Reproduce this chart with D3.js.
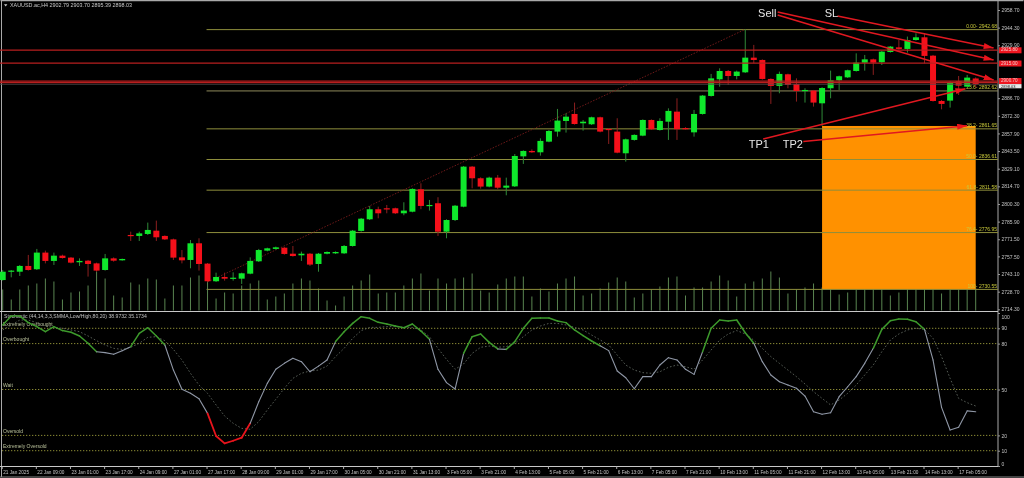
<!DOCTYPE html>
<html><head><meta charset="utf-8">
<script src="https://cdnjs.cloudflare.com/ajax/libs/d3/7.9.0/d3.min.js"></script>
<style>html,body{margin:0;padding:0;background:#000;overflow:hidden}svg{display:block;filter:blur(.3px)}text{font-family:"Liberation Sans",Arial,sans-serif}</style>
</head><body><svg id="c" width="1024" height="478"></svg>
<script>
const titleText="XAUUSD.ac,H4  2902.79 2903.70 2895.39 2898.03";
const stochTitle="Stochastic (44,14,3,3,SMMA,Low/High,80,20) 38.9732 35.1734";
const open=[2738.2,2745.0,2745.0,2749.7,2747.0,2760.6,2753.8,2758.1,2756.5,2752.7,2754.0,2751.8,2746.4,2755.9,2754.3,2775.0,2774.2,2775.8,2778.5,2774.2,2771.4,2756.7,2754.6,2768.2,2751.6,2737.2,2740.7,2739.3,2739.3,2743.4,2753.5,2762.2,2763.6,2764.6,2759.7,2758.4,2759.7,2751.3,2759.7,2760.0,
2760.0,2766.0,2778.3,2787.8,2796.0,2796.8,2796.8,2792.7,2794.0,2812.3,2798.7,2800.9,2777.7,2787.2,2798.1,2830.8,2821.3,2814.5,2821.8,2813.6,2814.7,2839.2,2843.6,2842.5,2851.2,2859.4,2868.1,2873.8,2866.2,2865.4,2871.1,2861.6,2859.4,2841.7,2852.6,2856.1,2868.9,2860.7,2867.5,2875.7,
2862.3,2858.8,2873.8,2888.5,2902.1,2908.9,2904.8,2907.8,2919.8,2917.9,2902.4,2896.7,2906.2,2898.3,2892.6,2892.9,2882.5,2894.8,2901.3,2903.7,2908.9,2915.7,2918.4,2916.0,2924.4,2928.2,2926.9,2934.2,2936.4,2921.4,2884.4,2884.7,2900.5,2896.1,2902.79];
const high=[2746.4,2746.4,2750.5,2758.7,2763.6,2762.2,2760.6,2758.9,2757.0,2755.9,2754.6,2752.4,2759.5,2756.7,2755.7,2777.7,2777.7,2785.1,2786.7,2774.7,2772.0,2762.7,2770.9,2772.3,2752.1,2744.2,2744.2,2744.5,2744.2,2756.7,2763.6,2764.6,2765.5,2765.2,2766.0,2761.4,2760.3,2760.3,2761.6,2761.6,
2766.8,2779.1,2788.9,2798.7,2798.1,2799.5,2797.3,2801.7,2813.1,2817.2,2803.6,2805.8,2787.8,2799.5,2831.3,2831.3,2822.1,2822.6,2824.0,2821.8,2841.1,2844.1,2844.9,2853.9,2860.7,2877.9,2874.3,2883.1,2868.9,2871.6,2871.6,2862.1,2870.3,2853.7,2857.2,2869.4,2869.4,2870.3,2878.4,2886.6,
2863.0,2877.1,2889.3,2906.5,2911.1,2909.7,2909.2,2942.9,2930.2,2918.4,2902.9,2908.4,2906.7,2902.9,2894.8,2893.4,2895.6,2909.2,2905.1,2910.0,2923.3,2922.0,2919.0,2925.3,2929.3,2934.2,2937.0,2939.7,2939.7,2922.0,2885.2,2900.5,2904.8,2905.7,2903.70];
const low=[2737.7,2740.4,2741.5,2745.9,2746.4,2751.8,2750.5,2755.7,2751.8,2749.7,2741.0,2745.0,2745.9,2753.2,2754.0,2770.1,2770.1,2775.0,2770.1,2770.9,2754.6,2751.8,2747.8,2745.9,2736.6,2736.6,2737.7,2737.7,2735.0,2742.9,2752.9,2761.6,2763.0,2758.9,2757.3,2753.8,2749.7,2745.0,2759.2,2759.5,
2759.5,2765.5,2777.7,2787.2,2788.6,2792.7,2792.1,2791.1,2793.5,2796.0,2794.9,2774.2,2772.3,2786.4,2797.6,2813.1,2812.8,2813.9,2812.3,2807.4,2814.2,2833.0,2842.0,2839.8,2850.7,2855.3,2858.6,2865.1,2860.2,2864.8,2858.8,2849.3,2841.7,2834.9,2852.0,2855.6,2860.7,2860.2,2852.6,2852.6,
2861.0,2855.3,2873.3,2888.0,2896.1,2897.5,2902.1,2907.3,2915.2,2901.8,2882.0,2890.7,2894.8,2883.9,2883.1,2879.8,2864.0,2886.6,2893.4,2903.2,2908.4,2909.2,2905.7,2913.8,2923.9,2926.3,2923.9,2933.7,2915.2,2883.9,2877.6,2879.0,2889.3,2895.6,2895.39];
const close=[2745.0,2745.9,2749.7,2746.4,2760.6,2753.8,2758.1,2756.2,2752.4,2753.8,2751.3,2745.9,2755.9,2754.0,2755.4,2774.2,2776.3,2779.1,2773.1,2771.4,2756.5,2754.3,2768.2,2751.3,2737.2,2740.7,2739.3,2740.1,2743.7,2753.8,2762.7,2764.1,2764.9,2759.5,2757.8,2759.7,2750.8,2759.7,2761.1,2761.1,
2766.0,2778.5,2788.3,2796.0,2792.7,2796.0,2792.7,2794.9,2812.6,2798.7,2799.5,2777.7,2787.2,2798.9,2830.8,2821.3,2814.5,2821.8,2813.6,2815.3,2839.5,2843.6,2842.5,2851.8,2859.9,2868.4,2871.6,2865.6,2867.5,2871.1,2859.4,2860.7,2842.2,2853.1,2856.7,2868.9,2861.3,2868.1,2876.3,2861.3,
2861.9,2873.8,2888.8,2902.9,2908.9,2904.8,2908.4,2919.8,2917.9,2902.4,2896.7,2906.5,2897.5,2892.6,2893.4,2883.1,2895.0,2901.3,2904.6,2909.5,2915.7,2918.4,2915.7,2924.7,2928.8,2926.9,2934.2,2936.4,2921.2,2884.4,2882.0,2899.9,2896.9,2903.5,2898.03];
const volume=[21,11,21,25,27,32,29,11,18,19,25,39,32,15,13,28,26,32,31,12,25,25,33,35,29,12,18,17,25,27,30,11,14,17,27,32,30,22,10,5,
14,25,30,36,17,18,18,25,32,37,20,32,27,32,33,37,20,18,26,32,34,34,14,22,19,27,32,34,15,17,22,28,33,29,13,17,21,24,33,34,
15,23,23,29,35,30,14,27,29,32,39,33,17,21,23,27,23,34,16,18,21,23,34,33,15,18,23,23,38,39,17,21,21,23,23];
const stochMain=[92.2,98.0,98.0,93.7,91.1,87.8,91.1,88.5,87.4,85.0,80.2,74.7,74.1,73.0,75.4,78.0,86.7,90.4,85.0,79.1,62.7,50.1,47.5,44.0,34.4,19.6,14.8,16.5,18.5,27.9,42.0,54.0,63.2,67.1,70.4,68.2,61.6,65.3,69.3,81.3,
87.8,93.2,97.6,96.5,93.9,92.8,91.5,90.4,92.8,88.2,82.8,63.2,54.5,50.3,73.6,84.5,86.3,80.8,76.5,76.2,81.3,90.0,96.5,96.7,96.7,94.8,93.7,88.9,85.2,81.7,78.6,75.4,62.1,57.7,50.5,58.4,58.4,66.0,70.8,69.3,
63.2,59.9,74.7,90.0,95.4,94.8,95.4,87.1,80.2,68.2,59.5,55.1,52.9,50.8,45.7,35.5,33.8,34.8,45.3,51.8,58.4,67.1,76.9,89.3,95.0,96.1,95.9,94.3,89.3,69.3,38.3,23.5,25.3,36.0,35.5];
const stochSignal=[88.9,92.2,95.4,95.4,93.7,91.5,90.4,90.0,88.9,87.8,85.0,81.9,79.1,76.9,76.2,77.6,80.2,84.1,84.5,81.9,76.2,69.3,60.6,52.9,47.5,39.9,32.7,27.9,24.6,24.0,29.0,36.6,43.6,50.8,57.3,60.6,62.1,62.7,65.3,71.5,
76.9,83.4,88.5,90.6,90.6,91.1,91.1,90.6,90.6,88.9,84.5,76.9,69.7,63.2,66.7,73.6,77.6,78.4,77.6,78.0,80.2,84.5,88.9,91.5,93.2,93.2,92.2,90.6,88.9,85.6,82.4,79.1,72.5,66.0,62.7,61.0,60.6,61.6,64.5,66.0,
64.9,63.2,69.3,75.8,82.3,86.3,88.5,86.3,82.3,76.9,71.5,67.1,62.7,58.4,53.6,48.6,44.2,39.9,43.1,47.5,52.9,59.5,66.0,74.7,82.3,86.3,88.9,90.0,89.3,83.4,71.5,57.3,44.2,41.4,39.2];
const priceTicks=[2958.70,2944.30,2929.90,2886.70,2872.30,2857.90,2843.50,2829.10,2814.70,2800.30,2785.90,2771.50,2757.50,2743.10,2728.70,2714.30];
const fibLevels=["0.00","23.6","38.2","50.0","61.8","76.4","100"];
const fibPrices=[2942.68,2892.62,2861.65,2836.61,2811.58,2776.95,2730.55];
const redLevels=[2926.0,2915.4,2900.7,2899.4];
const redTags=[2925.80,2915.00,2900.70];
const bidPrice=2898.03;
const stochTicks=[100,90,80,50,20,10,0];
const stochLevels=[90,80,50,20,10];
const levelNames=["Extremely Overbought","Overbought","Wait","Oversold","Extremely Oversold"];
const timeTicks=[0,4,8,12,16,20,24,28,32,36,40,44,48,52,56,60,64,68,72,76,80,84,88,92,96,100,104,108,112];
const timeLabels=["21 Jan 2025","22 Jan 09:00","23 Jan 01:00","23 Jan 17:00","24 Jan 09:00","27 Jan 01:00","27 Jan 17:00","28 Jan 09:00","29 Jan 01:00","29 Jan 17:00","30 Jan 05:00","30 Jan 21:00","31 Jan 13:00","3 Feb 05:00","3 Feb 21:00","4 Feb 13:00","5 Feb 05:00","5 Feb 21:00","6 Feb 13:00","7 Feb 05:00","7 Feb 21:00","10 Feb 13:00","11 Feb 05:00","11 Feb 21:00","12 Feb 13:00","13 Feb 05:00","13 Feb 21:00","14 Feb 13:00","17 Feb 05:00"];
// annotations in chart units: candle index and price
const arrows=[[90.8,2957.1,116.1,2917.9],[90.8,2954.6,116.1,2901.5],[97.8,2953.8,116.1,2927.7],[89.1,2853.4,112.8,2894.4],[93.8,2851.3,113.0,2864.2]];
const noteNames=["Sell","SL","TP1","TP2"];
const noteX=[88.5,96.3,87.4,91.4];
const noteP=[2952.6,2952.6,2846.0,2846.0];

const svg=d3.select("#c");
const n=open.length, idx=d3.range(n);
const plotR=998;
const x=d3.scaleLinear().domain([0,n-1]).range([2.7,975.7]);
const y=d3.scaleLinear().domain([2714.3,2958.7]).range([309.3,10]);
const ys=d3.scaleLinear().domain([0,100]).range([466,313]);
const yv=d3.scaleLinear().domain([0,100]).range([310.5,210.5]);
const bodyW=6;
const fs=5;

const defs=svg.append("defs");
defs.append("marker").attr("id","ah").attr("viewBox","0 0 10 6").attr("refX",10).attr("refY",3).attr("markerWidth",10).attr("markerHeight",6).attr("markerUnits","userSpaceOnUse").attr("orient","auto")
 .append("path").attr("d","M0,0L10,3L0,6Z").attr("fill","#e8141c");

// frame
const frame=svg.append("g").attr("stroke","#a9a9a9").attr("fill","none");
frame.append("path").attr("d",`M0.5,0.5H1023.5`).attr("stroke-width",1.5);
frame.append("path").attr("d",`M1.5,0V477`);
frame.append("path").attr("d",`M${plotR},0V466`);
frame.append("path").attr("d",`M0,311.5H${plotR}`).attr("stroke","#c8c8c8").attr("stroke-width",1.2);
frame.append("path").attr("d",`M0,466.5H${plotR}`).attr("stroke","#c8c8c8");
frame.append("path").attr("d",`M0,477H1024`).attr("stroke","#888");

// volume
svg.append("g").selectAll("line").data(idx).join("line")
 .attr("x1",i=>x(i)).attr("x2",i=>x(i)).attr("y1",yv(0)).attr("y2",i=>yv(volume[i]))
 .attr("stroke","#64945a").attr("stroke-width",.9);

// orange box
svg.append("rect").attr("x",x(96)).attr("width",x(114)-x(96)).attr("y",y(2864)).attr("height",y(fibPrices[6])-y(2864)).attr("fill","#ff9100");

// fib lines
const fib=svg.append("g");
fib.selectAll("line").data(fibPrices).join("line")
 .attr("x1",x(24)-1).attr("x2",plotR).attr("y1",d=>y(d)).attr("y2",d=>y(d))
 .attr("stroke",(d,i)=>i===1?"#8f8a5a":"#8e8e3c").attr("stroke-width",1);
fib.selectAll("text").data(fibPrices).join("text")
 .attr("x",plotR-1).attr("y",d=>y(d)-1.5).attr("text-anchor","end").attr("font-size",fs).attr("fill","#c9c93a")
 .text((d,i)=>`${fibLevels[i]}- ${d.toFixed(2)}`);

// trend line
svg.append("line").attr("x1",x(24)).attr("y1",y(low[24])).attr("x2",x(87)).attr("y2",y(high[87]))
 .attr("stroke","#7a1c1c").attr("stroke-width",.9).attr("stroke-dasharray","1.5 1.5");

// candles
const cg=svg.append("g");
cg.selectAll("line").data(idx).join("line")
 .attr("x1",i=>x(i)).attr("x2",i=>x(i)).attr("y1",i=>y(high[i])).attr("y2",i=>y(low[i]))
 .attr("stroke",i=>close[i]>=open[i]?"#2f8a38":"#8c1f1f").attr("stroke-width",1);
cg.selectAll("rect").data(idx).join("rect")
 .attr("x",i=>x(i)-bodyW/2).attr("width",bodyW)
 .attr("y",i=>y(Math.max(open[i],close[i])))
 .attr("height",i=>Math.max(1.2,Math.abs(y(open[i])-y(close[i]))))
 .attr("fill",i=>close[i]>=open[i]?"#0fe82c":"#f5101a");

// red horizontal levels
svg.append("g").selectAll("line").data(redLevels).join("line")
 .attr("x1",0).attr("x2",plotR).attr("y1",d=>y(d)).attr("y2",d=>y(d))
 .attr("stroke","#b81f1f").attr("stroke-width",1.2);
svg.append("line").attr("x1",0).attr("x2",plotR).attr("y1",y(bidPrice)).attr("y2",y(bidPrice)).attr("stroke","#4a4a4a").attr("stroke-width",.8);

// arrows
svg.append("g").selectAll("line").data(arrows).join("line")
 .attr("x1",d=>x(d[0])).attr("y1",d=>y(d[1])).attr("x2",d=>x(d[2])).attr("y2",d=>y(d[3]))
 .attr("stroke","#e01820").attr("stroke-width",1.6).attr("marker-end","url(#ah)");
svg.append("g").selectAll("text").data(noteNames).join("text")
 .attr("x",(d,i)=>x(noteX[i])).attr("y",(d,i)=>y(noteP[i])).attr("font-size",11).attr("fill","#e6e6e6").text(d=>d);

// price axis
const pa=svg.append("g").attr("transform",`translate(${plotR},0)`)
 .call(d3.axisRight(y).tickValues(priceTicks).tickSize(2).tickPadding(1.5).tickFormat(d3.format(".2f")));
pa.select(".domain").remove();
pa.selectAll("line").attr("stroke","#999");
pa.selectAll("text").attr("font-size",fs).attr("fill","#c4c4c4").attr("font-family","Liberation Sans");

// price tags
const tags=svg.append("g");
tags.selectAll("rect").data(redTags).join("rect").attr("x",plotR+1).attr("width",22.5).attr("y",d=>y(d)-3).attr("height",6).attr("fill","#ee1620");
tags.selectAll("text").data(redTags).join("text").attr("x",plotR+3).attr("y",d=>y(d)+1.2).attr("font-size",4.6).attr("fill","#f2c8c8").text(d=>d.toFixed(2));
tags.append("rect").attr("x",plotR+1).attr("width",22.5).attr("y",y(bidPrice)-0.2).attr("height",4.2).attr("fill","#e8e8e8");
tags.append("text").attr("x",plotR+3).attr("y",y(bidPrice)+3.5).attr("font-size",4).attr("fill","#222").text(bidPrice.toFixed(2));

// title
svg.append("path").attr("d","M4,4.2h3.4l-1.7,2.2z").attr("fill","#ccc");
svg.append("text").attr("x",10).attr("y",7).attr("font-size",5.4).attr("fill","#c8c8c8").text(titleText);

// stochastic levels
const lv=svg.append("g");
lv.selectAll("line").data(stochLevels).join("line")
 .attr("x1",2).attr("x2",plotR).attr("y1",d=>ys(d)).attr("y2",d=>ys(d))
 .attr("stroke","#9a9a3a").attr("stroke-width",.9).attr("stroke-dasharray","1.3 1.7");
lv.selectAll("text").data(stochLevels).join("text")
 .attr("x",3).attr("y",d=>ys(d)-2.3).attr("font-size",fs).attr("fill","#b9c09a").text((d,i)=>levelNames[i]);
svg.append("text").attr("x",4).attr("y",318).attr("font-size",5.1).attr("fill","#c0c0c0").text(stochTitle);

// signal line
svg.append("path").datum(idx).attr("fill","none").attr("stroke","#5f665f").attr("stroke-width",.9).attr("stroke-dasharray","1.6 2")
 .attr("d",d3.line().x(i=>x(i)).y(i=>ys(stochSignal[i])));
// main line, coloured by zone
const line=d3.line().x(i=>x(i)).y(i=>ys(stochMain[i]));
const segs=d3.range(n-1).map(i=>[i,i+1]);
const zone=s=>{const a=stochMain[s[0]],b=stochMain[s[1]];return (a>=80&&b>=80)||Math.max(a,b)>=80&&Math.min(a,b)>=73?"hi":(Math.min(a,b)<=19.7&&Math.max(a,b)<=35)?"lo":"mid";};
svg.append("g").attr("fill","none").attr("stroke-linecap","round").selectAll("path").data(segs).join("path")
 .attr("d",line)
 .attr("stroke",s=>({hi:"#3d9a2c",lo:"#e8141c",mid:"#8f97a6"})[zone(s)])
 .attr("stroke-width",s=>({hi:1.5,lo:1.8,mid:1.1})[zone(s)]);

// stochastic axis
const sa=svg.append("g").attr("transform",`translate(${plotR},0)`)
 .call(d3.axisRight(ys).tickValues(stochTicks).tickSize(2).tickPadding(1.5));
sa.select(".domain").remove();
sa.selectAll("line").attr("stroke","#999");
sa.selectAll("text").attr("font-size",fs).attr("fill","#c4c4c4").attr("font-family","Liberation Sans");
sa.selectAll(".tick").filter(d=>d===100).select("text").attr("dy","1em");
sa.selectAll(".tick").filter(d=>d===0).select("text").attr("dy","-.2em");

// time axis
const ta=svg.append("g").attr("transform","translate(0,466.5)")
 .call(d3.axisBottom(x).tickValues(timeTicks).tickSize(2.5).tickPadding(1.5).tickFormat((d,i)=>timeLabels[i]));
ta.select(".domain").remove();
ta.selectAll("line").attr("stroke","#aaa").attr("transform","translate(-1,0)");
ta.selectAll("text").attr("text-anchor","start").attr("font-size",4.7).attr("fill","#c4c4c4").attr("font-family","Liberation Sans").attr("dx",0).attr("y",4);
</script></body></html>
